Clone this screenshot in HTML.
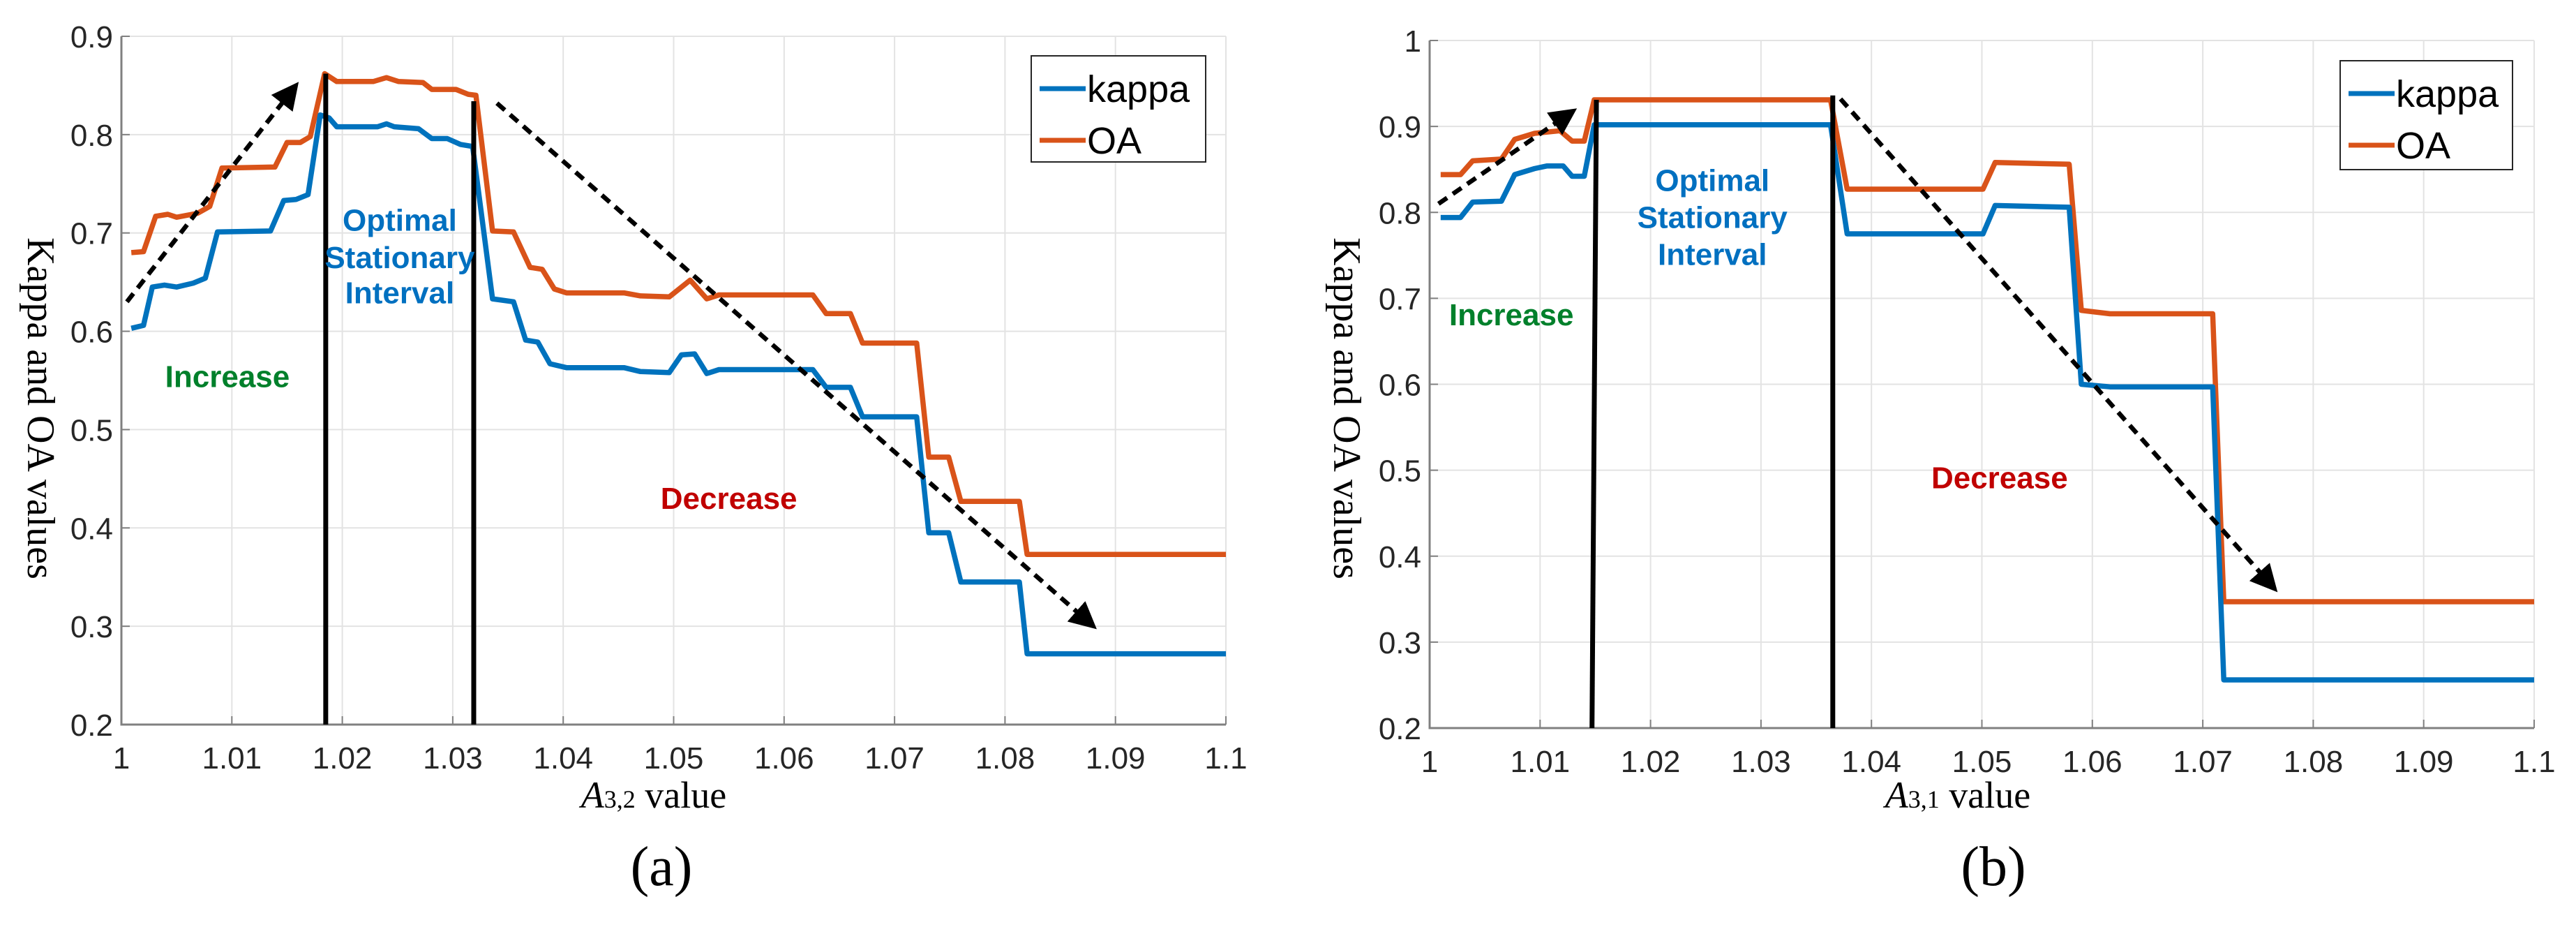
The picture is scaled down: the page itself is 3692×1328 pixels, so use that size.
<!DOCTYPE html>
<html><head><meta charset="utf-8"><style>
html,body{margin:0;padding:0;background:#fff;}
svg{display:block;}
</style></head><body>
<svg id="fig" width="3692" height="1328" viewBox="0 0 3692 1328" xmlns="http://www.w3.org/2000/svg"></svg>
<script>
// ---------- data: panel (a) ----------
const xTicks = [1, 1.01, 1.02, 1.03, 1.04, 1.05, 1.06, 1.07, 1.08, 1.09, 1.1];
const xTickLabels = ["1","1.01","1.02","1.03","1.04","1.05","1.06","1.07","1.08","1.09","1.1"];
const yTicksA = [0.2,0.3,0.4,0.5,0.6,0.7,0.8,0.9];
const yTickLabelsA = ["0.2","0.3","0.4","0.5","0.6","0.7","0.8","0.9"];
const yTicksB = [0.2,0.3,0.4,0.5,0.6,0.7,0.8,0.9,1.0];
const yTickLabelsB = ["0.2","0.3","0.4","0.5","0.6","0.7","0.8","0.9","1"];

const kappaAx = [1.0009,1.0020,1.0028,1.0039,1.0050,1.0065,1.0076,1.0087,1.0135,1.0147,1.0158,1.0169,1.0180,1.0188,1.0195,1.0232,1.0240,1.0247,1.0269,1.0281,1.0295,1.0307,1.0318,1.0336,1.0355,1.0366,1.0377,1.0388,1.0403,1.0455,1.0470,1.0496,1.0507,1.0519,1.0530,1.0541,1.0626,1.0638,1.0660,1.0671,1.0720,1.0731,1.0749,1.0760,1.0813,1.0820,1.1];
const kappaAy = [.603,.606,.645,.647,.645,.649,.654,.701,.702,.733,.734,.739,.820,.817,.808,.808,.811,.808,.806,.796,.796,.790,.788,.633,.630,.591,.589,.567,.563,.563,.559,.558,.576,.577,.557,.561,.561,.543,.543,.513,.513,.395,.395,.345,.345,.272,.272];
const oaAx = [1.0009,1.0020,1.0031,1.0042,1.0050,1.0069,1.0080,1.0091,1.0139,1.0150,1.0162,1.0171,1.0184,1.0195,1.0228,1.0240,1.0251,1.0273,1.0281,1.0303,1.0314,1.0321,1.0336,1.0355,1.0370,1.0381,1.0392,1.0403,1.0455,1.0470,1.0496,1.0515,1.0530,1.0541,1.0626,1.0638,1.0660,1.0671,1.0720,1.0731,1.0749,1.0760,1.0813,1.0820,1.1];
const oaAy = [.680,.681,.717,.719,.716,.720,.727,.766,.767,.792,.792,.798,.862,.854,.854,.858,.854,.853,.846,.846,.841,.840,.702,.701,.665,.663,.643,.639,.639,.636,.635,.652,.633,.637,.637,.618,.618,.588,.588,.472,.472,.427,.427,.373,.373];

// ---------- data: panel (b) ----------
const kappaBx = [1.0010,1.0028,1.0039,1.0065,1.0077,1.0095,1.0106,1.0121,1.0129,1.0140,1.0149,1.0363,1.0378,1.0501,1.0512,1.0579,1.0590,1.0616,1.0709,1.0719,1.1];
const kappaBy = [.794,.794,.812,.813,.844,.851,.854,.854,.842,.842,.902,.902,.775,.775,.808,.806,.600,.597,.597,.256,.256];
const oaBx = [1.0010,1.0028,1.0039,1.0065,1.0077,1.0095,1.0118,1.0129,1.0140,1.0149,1.0363,1.0378,1.0501,1.0512,1.0579,1.0590,1.0616,1.0709,1.0719,1.1];
const oaBy = [.844,.844,.860,.862,.885,.892,.895,.883,.883,.931,.931,.827,.827,.858,.856,.686,.682,.682,.347,.347];

const NS = "http://www.w3.org/2000/svg";
const svg = document.getElementById('fig');
function mk(tag, attrs, parent) {
  const e = document.createElementNS(NS, tag);
  for (const k in attrs) e.setAttribute(k, attrs[k]);
  (parent || svg).appendChild(e);
  return e;
}
const defs = mk('defs', {});
const mkr = mk('marker', {id:'ah', markerWidth:'6', markerHeight:'6', refX:'5', refY:'3', orient:'auto', markerUnits:'strokeWidth'}, defs);
mk('path', {d:'M0,0 L6,3 L0,6 Z', fill:'#000'}, mkr);

function panel(cfg) {
  const g = mk('g', {});
  
  
  const X = v => cfg.x0 + (v - 1) / 0.1 * (cfg.x1 - cfg.x0);
  const Y = v => cfg.y0 + (v - cfg.ymin) / (cfg.ymax - cfg.ymin) * (cfg.y1 - cfg.y0);
  xTicks.forEach((t, i) => {
    const l = mk('line', {x1:X(t), x2:X(t), y1:cfg.y1, y2:cfg.y0, stroke:'#e3e3e3', 'stroke-width':2}, g);
    
    
    mk('line', {x1:X(t), x2:X(t), y1:cfg.y0, y2:cfg.y0-12, stroke:'#808080', 'stroke-width':2}, g);
    const tx = mk('text', {x:X(t), y:cfg.y0+63, 'text-anchor':'middle', 'font-size':44, fill:'#262626', 'font-family':'Liberation Sans, sans-serif'}, g);
    tx.textContent = xTickLabels[i];
    
    
  });
  cfg.yt.forEach((t, i) => {
    const l = mk('line', {x1:cfg.x0, x2:cfg.x1, y1:Y(t), y2:Y(t), stroke:'#e3e3e3', 'stroke-width':2}, g);
    
    
    mk('line', {x1:cfg.x0, x2:cfg.x0+12, y1:Y(t), y2:Y(t), stroke:'#808080', 'stroke-width':2}, g);
    const tx = mk('text', {x:cfg.x0-12, y:Y(t)+16, 'text-anchor':'end', 'font-size':44, fill:'#262626', 'font-family':'Liberation Sans, sans-serif'}, g);
    tx.textContent = cfg.ytl[i];
    
    
  });
  const ax = mk('path', {d:`M${cfg.x0},${cfg.y1} L${cfg.x0},${cfg.y0} L${cfg.x1},${cfg.y0}`, fill:'none', stroke:'#808080', 'stroke-width':3}, g);
  
  

  function series(xs, ys, color, name) {
    const d = xs.map((v, i) => (i ? 'L' : 'M') + X(v).toFixed(1) + ',' + Y(ys[i]).toFixed(1)).join(' ');
    const p = mk('path', {d, fill:'none', stroke:color, 'stroke-width':7.5, 'stroke-linejoin':'round'}, g);
    
    
  }
  series(cfg.ox, cfg.oy, '#d95319', 'oa-line');
  series(cfg.kx, cfg.ky, '#0072bd', 'kappa-line');

  cfg.vl.forEach(v => {
    const l = mk('line', {x1:X(v[0]), y1:cfg.y0, x2:X(v[1]), y2:Y(v[2]), stroke:'#000', 'stroke-width':7}, g);
    
    
  });
  cfg.arrows.forEach(a => {
    const l = mk('line', {x1:X(a[0]), y1:Y(a[1]), x2:X(a[2]), y2:Y(a[3]), stroke:'#000', 'stroke-width':6.5, 'stroke-dasharray':'15 10', 'marker-end':'url(#ah)'}, g);
    
    
  });
  function label(txt, xv, yv, color, name) {
    const t = mk('text', {x:X(xv), y:Y(yv)+15, 'text-anchor':'middle', 'font-size':44, 'font-weight':'bold', fill:color, 'font-family':'Liberation Sans Narrow, Liberation Sans, sans-serif'}, g);
    t.textContent = txt;
    
    
  }
  cfg.opt[1].forEach((yv, i) => label(['Optimal','Stationary','Interval'][i], cfg.opt[0], yv, '#0070c0', 'optimal-interval-label'));
  label('Increase', cfg.inc[0], cfg.inc[1], '#00802b', 'increase-label');
  label('Decrease', cfg.dec[0], cfg.dec[1], '#c00000', 'decrease-label');

  const L = cfg.leg;
  const lg = mk('g', {}, g);
  
  
  mk('rect', {x:L.x, y:L.y, width:L.w, height:L.h, fill:'#fff', stroke:'#262626', 'stroke-width':2}, lg);
  [['kappa', '#0072bd', 0], ['OA', '#d95319', 1]].forEach(e => {
    const yy = L.y + 47 + e[2] * 74;
    mk('line', {x1:L.x+12, x2:L.x+78, y1:yy, y2:yy, stroke:e[1], 'stroke-width':7}, lg);
    const t = mk('text', {x:L.x+80, y:yy+19, 'font-size':54, fill:'#000', 'font-family':'Liberation Sans, sans-serif'}, lg);
    t.textContent = e[0];
    
    
  });

  const yl = mk('text', {x:0, y:0, transform:`translate(${cfg.ylx},585) rotate(90)`, 'text-anchor':'middle', 'font-size':56, fill:'#000', 'font-family':'Liberation Serif, serif'}, g);
  yl.textContent = 'Kappa and OA values';
  
  
  const xl = mk('text', {x:cfg.xlx, y:1157, 'text-anchor':'middle', 'font-size':54, fill:'#000', 'font-family':'Liberation Serif, serif'}, g);
  xl.innerHTML = `<tspan font-style="italic">A</tspan><tspan font-size="36">${cfg.sub}</tspan> value`;
  
  
  const cap = mk('text', {x:cfg.capx, y:1268, 'text-anchor':'middle', 'font-size':80, fill:'#000', 'font-family':'Liberation Serif, serif'}, g);
  cap.textContent = cfg.cap;
  
  
}

panel({name:'panel-a', x0:174, x1:1757, y0:1038, y1:52, ymin:0.2, ymax:0.9, yt:yTicksA, ytl:yTickLabelsA,
  kx:kappaAx, ky:kappaAy, ox:oaAx, oy:oaAy,
  vl:[[1.0185,1.0185,.862],[1.0319,1.0319,.834]],
  arrows:[[1.0005,.63,1.0158,.850],[1.0340,.832,1.0880,.300]],
  opt:[1.0252,[.713,.675,.639]], inc:[1.0096,.554], dec:[1.055,.430],
  leg:{x:1478, y:80, w:250, h:152}, ylx:40, xlx:937, sub:'3,2', capx:948, cap:'(a)'});
panel({name:'panel-b', x0:2049, x1:3632, y0:1043, y1:58, ymin:0.2, ymax:1.0, yt:yTicksB, ytl:yTickLabelsB,
  kx:kappaBx, ky:kappaBy, ox:oaBx, oy:oaBy,
  vl:[[1.0147,1.0151,.931],[1.0365,1.0365,.936]],
  arrows:[[1.0008,.81,1.0130,.918],[1.0372,.932,1.0765,.362]],
  opt:[1.0256,[.837,.794,.751]], inc:[1.0074,.681], dec:[1.0516,.491],
  leg:{x:3354, y:87, w:247, h:156}, ylx:1912, xlx:2806, sub:'3,1', capx:2857, cap:'(b)'});
</script>
</body></html>
